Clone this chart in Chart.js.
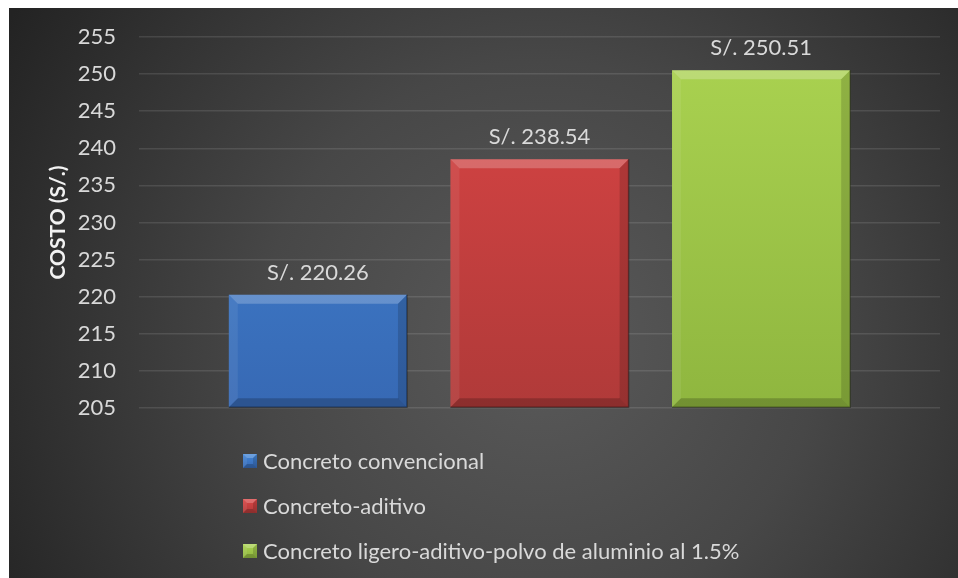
<!DOCTYPE html>
<html>
<head>
<meta charset="utf-8">
<script src="https://cdn.jsdelivr.net/npm/chart.js@4.4.1/dist/chart.umd.min.js"></script>
<style>
  html, body { margin: 0; padding: 0; background: #ffffff; }
  #wrap { width: 958px; height: 578px; position: relative; }
</style>
</head>
<body>
<div id="wrap"><canvas id="costChart"></canvas></div>
<script>
const seriesNames = [
    "Concreto convencional",
    "Concreto-aditivo",
    "Concreto ligero-aditivo-polvo de aluminio al 1.5%"
];
const costs = [220.26, 238.54, 250.51];
const topColors = ["#4387d8", "#db4545", "#abd351"];
const bottomColors = ["#3769b4", "#b03a39", "#8fb63f"];
const yMin = 205;
const yMax = 255;
const yStep = 5;

const FONT = "Lato, 'Open Sans', sans-serif";
const TEXT = "#d9d9d9";

function barGradient(i) {
    return (ctx) => {
        const area = ctx.chart.chartArea;
        if (!area) return topColors[i];
        const g = ctx.chart.ctx.createLinearGradient(0, area.top, 0, area.bottom);
        g.addColorStop(0, topColors[i]);
        g.addColorStop(1, bottomColors[i]);
        return g;
    };
}

function bevel(c, l, t, r, b, s) {
    // top
    c.fillStyle = "rgba(255,255,255,0.22)";
    c.beginPath();
    c.moveTo(l, t); c.lineTo(r, t); c.lineTo(r - s, t + s); c.lineTo(l + s, t + s);
    c.closePath(); c.fill();
    // left
    c.fillStyle = "rgba(255,255,255,0.07)";
    c.beginPath();
    c.moveTo(l, t); c.lineTo(l + s, t + s); c.lineTo(l + s, b - s); c.lineTo(l, b);
    c.closePath(); c.fill();
    // right
    c.fillStyle = "rgba(0,0,0,0.15)";
    c.beginPath();
    c.moveTo(r, t); c.lineTo(r, b); c.lineTo(r - s, b - s); c.lineTo(r - s, t + s);
    c.closePath(); c.fill();
    // bottom
    c.fillStyle = "rgba(0,0,0,0.2)";
    c.beginPath();
    c.moveTo(l, b); c.lineTo(l + s, b - s); c.lineTo(r - s, b - s); c.lineTo(r, b);
    c.closePath(); c.fill();
}

const backdrop = {
    id: "backdrop",
    beforeDraw(chart) {
        const c = chart.ctx;
        c.save();
        c.fillStyle = "#ffffff";
        c.fillRect(0, 0, chart.width, chart.height);
        const g = c.createRadialGradient(540, 340, 0, 540, 340, 620);
        g.addColorStop(0, "#5a5a5a");
        g.addColorStop(0.45, "#474747");
        g.addColorStop(1, "#232323");
        c.fillStyle = g;
        c.fillRect(9, 8, chart.width - 9, chart.height - 8);
        c.restore();
    }
};

const barDecor = {
    id: "barDecor",
    afterDatasetsDraw(chart) {
        const c = chart.ctx;
        const bottom = chart.chartArea.bottom;
        c.save();
        chart.data.datasets.forEach((ds, i) => {
            const bar = chart.getDatasetMeta(i).data[0];
            if (!bar) return;
            const p = bar.getProps(["x", "y", "base", "width"], true);
            const base = Math.min(p.base, bottom);
            const l = p.x - p.width / 2, r = p.x + p.width / 2;
            bevel(c, l, p.y, r, base, 9);
            c.strokeStyle = "rgba(0,0,0,0.35)";
            c.lineWidth = 1.5;
            c.beginPath();
            c.moveTo(r, p.y); c.lineTo(r, base); c.lineTo(l, base);
            c.stroke();
            c.fillStyle = TEXT;
            c.font = "22px " + FONT;
            c.textAlign = "center";
            c.textBaseline = "bottom";
            c.fillText("S/. " + ds.data[0].toFixed(2), p.x, p.y - 11);
        });
        c.restore();
    }
};

const sideLegend = {
    id: "sideLegend",
    afterDraw(chart) {
        const c = chart.ctx;
        c.save();
        c.font = "22px " + FONT;
        c.textBaseline = "middle";
        c.textAlign = "left";
        chart.data.datasets.forEach((ds, i) => {
            const cy = 461 + i * 45;
            const x = 243, s = 14;
            const g = c.createLinearGradient(0, cy - s / 2, 0, cy + s / 2);
            g.addColorStop(0, topColors[i]);
            g.addColorStop(1, bottomColors[i]);
            c.fillStyle = g;
            c.fillRect(x, cy - s / 2, s, s);
            bevel(c, x, cy - s / 2, x + s, cy + s / 2, 4);
            c.fillStyle = TEXT;
            c.fillText(ds.label, 263, cy + 1);
        });
        c.restore();
    }
};

new Chart(document.getElementById("costChart"), {
    type: "bar",
    data: {
        labels: [""],
        datasets: seriesNames.map((name, i) => ({
            label: name,
            data: [costs[i]],
            base: yMin,
            backgroundColor: barGradient(i),
            borderWidth: 0,
            categoryPercentage: 0.83,
            barPercentage: 0.804
        }))
    },
    options: {
        responsive: true,
        maintainAspectRatio: false,
        animation: false,
        layout: { padding: { left: 9, right: 18, top: 37, bottom: 170 } },
        plugins: {
            legend: { display: false },
            tooltip: { enabled: false }
        },
        scales: {
            x: { display: false },
            y: {
                min: yMin,
                max: yMax,
                border: { display: false },
                grid: { color: "rgba(255,255,255,0.11)", lineWidth: 1.5, drawTicks: false },
                ticks: {
                    stepSize: yStep,
                    padding: 23,
                    color: TEXT,
                    font: { family: FONT, size: 22 }
                },
                title: {
                    display: true,
                    text: "COSTO (S/.)",
                    color: "#f2f2f2",
                    font: { family: FONT, size: 21, weight: "bold" },
                    padding: { top: 37, bottom: 0 }
                },
                afterFit(scale) { scale.width = 130; }
            }
        }
    },
    plugins: [backdrop, barDecor, sideLegend]
});
</script>
</body>
</html>
